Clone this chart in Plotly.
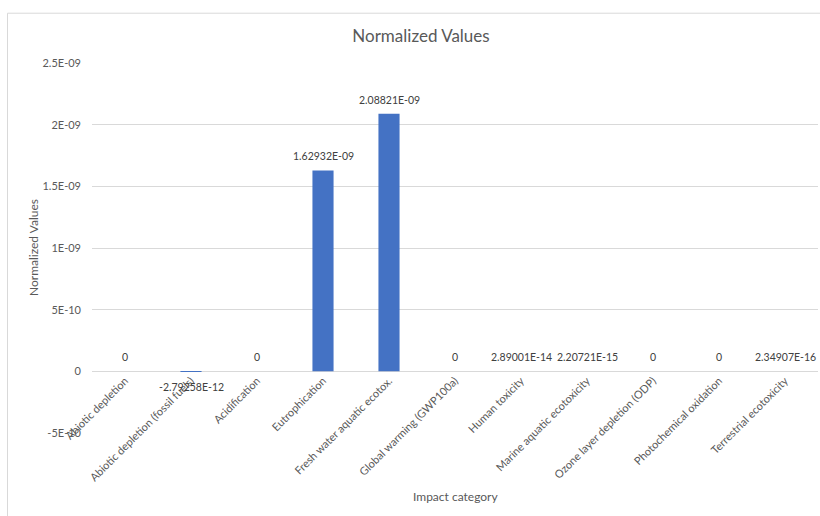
import plotly.graph_objects as go

# Impact categories and their normalized values
categories = [
    "Abiotic depletion",
    "Abiotic depletion (fossil fuels)",
    "Acidification",
    "Eutrophication",
    "Fresh water aquatic ecotox.",
    "Global warming (GWP100a)",
    "Human toxicity",
    "Marine aquatic ecotoxicity",
    "Ozone layer depletion (ODP)",
    "Photochemical oxidation",
    "Terrestrial ecotoxicity",
]
values = [
    0,
    -2.79258e-12,
    0,
    1.62932e-09,
    2.08821e-09,
    0,
    2.89001e-14,
    2.20721e-15,
    0,
    0,
    2.34907e-16,
]

y_tickvals = [-5e-10, 0, 5e-10, 1e-09, 1.5e-09, 2e-09, 2.5e-09]
y_ticktext = ["-5E-10", "0", "5E-10", "1E-09", "1.5E-09", "2E-09", "2.5E-09"]

FONT = "Lato, 'Open Sans', sans-serif"
GREY = "#595959"
GRID = "#d9d9d9"


def general_format(v):
    """Spreadsheet 'General' style number text."""
    if v == 0:
        return "0"
    return "{:.5E}".format(v)


fig = go.Figure()

fig.add_trace(go.Bar(
    x=categories,
    y=values,
    marker=dict(color="#4472C4", line=dict(width=0)),
    width=0.32,
    hoverinfo="x+y",
    showlegend=False,
))

# value labels sitting just outside each bar end
value_labels = [
    dict(
        x=c, y=v, xref="x", yref="y",
        text=general_format(v),
        showarrow=False,
        xanchor="center",
        yanchor="top" if v < 0 else "bottom",
        yshift=-7 if v < 0 else 6,
        font=dict(family=FONT, size=10.5, color="#404040"),
    )
    for c, v in zip(categories, values)
]

fig.update_layout(
    width=820,
    height=516,
    margin=dict(l=92, r=2, t=63, b=83),
    paper_bgcolor="white",
    plot_bgcolor="white",
    font=dict(family=FONT, size=11, color=GREY),
    title=dict(
        text="Normalized Values",
        x=421 / 820,
        xanchor="center",
        y=1 - 36 / 516,
        yanchor="middle",
        xref="container",
        yref="container",
        font=dict(family=FONT, size=17, color=GREY),
    ),
    xaxis=dict(
        anchor="free",
        position=1 / 6,
        tickangle=-45,
        showgrid=False,
        showline=False,
        zeroline=False,
        ticks="",
        tickfont=dict(family=FONT, size=11, color=GREY),
        range=[-0.5, 10.5],
    ),
    yaxis=dict(
        range=[-5e-10, 2.5e-09],
        tickvals=y_tickvals,
        ticktext=y_ticktext,
        showgrid=True,
        gridcolor=GRID,
        gridwidth=1,
        zeroline=True,
        zerolinecolor=GRID,
        zerolinewidth=1,
        showline=False,
        ticks="",
        ticklabelstandoff=10,
        tickfont=dict(family=FONT, size=11, color=GREY),
    ),
    annotations=value_labels + [
        dict(
            text="Impact category",
            x=0.5, y=(433.4 - 497) / 370.1,
            xref="paper", yref="paper",
            xanchor="center", yanchor="middle",
            showarrow=False,
            font=dict(family=FONT, size=12, color=GREY),
        ),
        dict(
            text="Normalized Values",
            x=(33 - 92) / 726, y=0.5,
            xref="paper", yref="paper",
            xanchor="center", yanchor="middle",
            textangle=-90,
            showarrow=False,
            font=dict(family=FONT, size=12, color=GREY),
        ),
    ],
    shapes=[
        # chart area frame
        dict(
            type="rect",
            xref="paper", yref="paper",
            x0=(7.5 - 92) / 726, x1=1.2,
            y0=-0.5, y1=(433.4 - 13.5) / 370.1,
            line=dict(color=GRID, width=1),
            fillcolor="rgba(0,0,0,0)",
            layer="below",
        ),
    ],
)

fig.write_html("out.html")
